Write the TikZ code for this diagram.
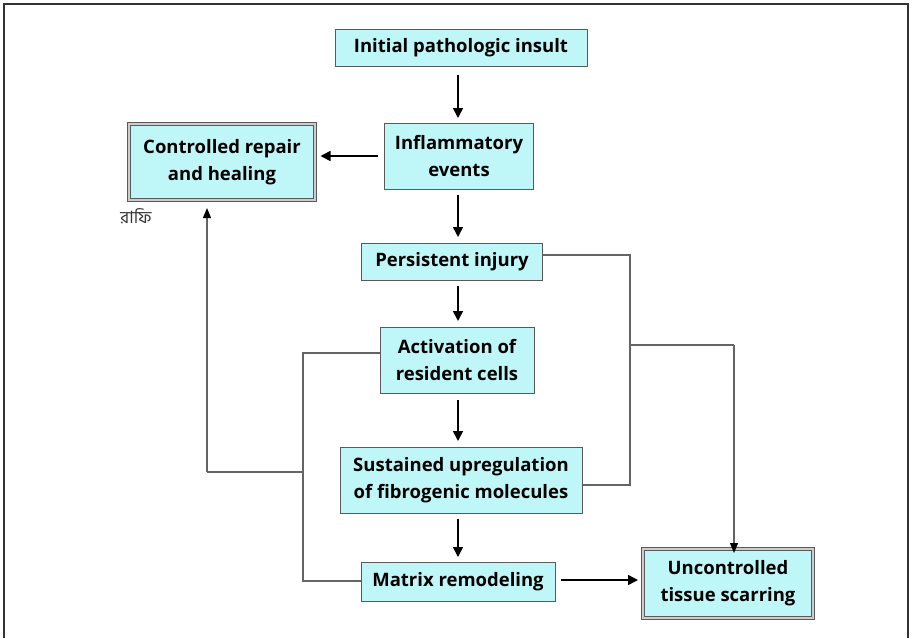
\documentclass[tikz,border=0pt]{standalone}
\usepackage{fontspec}
\setmainfont{Open Sans}
\newfontfamily\bengfont[Script=Bengali]{Hind Siliguri}
\usetikzlibrary{arrows.meta}
\definecolor{boxfill}{RGB}{191,246,247}
\definecolor{boxline}{RGB}{90,90,90}
\definecolor{wireline}{RGB}{100,100,100}
\tikzset{
  stepbox/.style={draw=boxline, fill=boxfill, line width=1pt, inner sep=0pt,
    align=center, font=\fontsize{18.5}{27}\selectfont\bfseries},
  endbox/.style={stepbox, double=gray!40, double distance=2pt, draw=boxline},
  mainarrow/.style={line width=1.6pt, -{Triangle[length=10pt,width=10pt]}},
  wire/.style={draw=wireline, line width=1.2pt},
  wirearrow/.style={wire, -{Triangle[length=10pt,width=8pt,fill=black,color=black]}}
}
\begin{document}
\begin{tikzpicture}[x=1pt,y=-1pt]
\useasboundingbox (0,0) rectangle (912,638);
\draw[line width=1.2pt, black!80] (4,638) -- (4,4) -- (908,4) -- (908,638);

\node[stepbox, minimum width=252pt, minimum height=37pt] (ins) at (461,48) {Initial pathologic insult};
\node[stepbox, minimum width=149pt, minimum height=66pt] (inf) at (459,156) {Inflammatory\\events};
\node[endbox, minimum width=186pt, minimum height=76pt] (ctl) at (222,162) {Controlled repair\\and healing};
\node[text=black!80, font=\bengfont\fontsize{17}{19}\selectfont] (sig) at (136,216) {রাফি};
\node[stepbox, minimum width=181pt, minimum height=37pt] (per) at (452,262) {Persistent injury};
\node[stepbox, minimum width=154pt, minimum height=66pt] (act) at (457,360) {Activation of\\resident cells};
\node[stepbox, minimum width=242pt, minimum height=66pt] (sus) at (461,480) {Sustained upregulation\\of fibrogenic molecules};
\node[stepbox, minimum width=194pt, minimum height=39pt] (mat) at (458,582) {Matrix remodeling};
\node[endbox, minimum width=170pt, minimum height=69pt] (unc) at (728,583) {Uncontrolled\\tissue scarring};

% main arrows
\draw[mainarrow] (458,75) -- (458,118);
\draw[mainarrow] (inf.west) ++(-6,0) -- ([xshift=5pt]ctl.east |- inf.west);
\draw[mainarrow] (458,195) -- (458,237);
\draw[mainarrow] (458,286) -- (458,321);
\draw[mainarrow] (458,400) -- (458,441);
\draw[mainarrow] (458,519) -- (458,557);
\draw[mainarrow] (561,580) -- (638,580);

% right wires
\coordinate (r1) at (630,255);
\coordinate (r2) at (630,485);
\coordinate (r3) at (630,345);
\coordinate (r4) at (734,345);
\draw[wire] (per.east |- r1) -- (r1) -- (r2) -- (sus.east |- r2);
\draw[wire] (r3) -- (r4);
\draw[wirearrow] (r4) -- ([yshift=-5pt]unc.north -| r4);

% left wires
\coordinate (l1) at (303,353);
\coordinate (l2) at (303,581);
\coordinate (l3) at (303,472);
\coordinate (l4) at (207,472);
\draw[wire] (act.west |- l1) -- (l1) -- (l2) -- (mat.west |- l2);
\draw[wire] (l3) -- (l4);
\draw[wirearrow] (l4) -- (207,208);
\end{tikzpicture}
\end{document}
